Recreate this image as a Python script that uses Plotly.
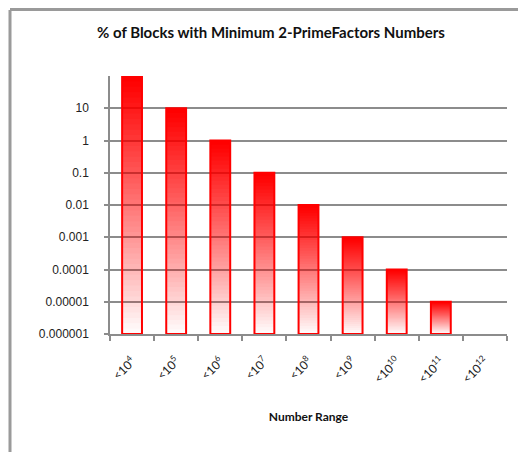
import plotly.graph_objects as go

# data
categories = ["<10<sup>4</sup>", "<10<sup>5</sup>", "<10<sup>6</sup>", "<10<sup>7</sup>",
              "<10<sup>8</sup>", "<10<sup>9</sup>", "<10<sup>10</sup>", "<10<sup>11</sup>",
              "<10<sup>12</sup>"]
percent_blocks = [100, 10, 1, 0.1, 0.01, 0.001, 0.0001, 0.00001, None]
y_tick_vals = [0.000001, 0.00001, 0.0001, 0.001, 0.01, 0.1, 1, 10]
y_tick_text = ["0.000001", "0.00001", "0.0001", "0.001", "0.01", "0.1", "1", "10"]
axis_floor = 0.000001

W, H = 518, 444
L, R, T, B = 102, 19, 68, 118
pw, ph = W - L - R, H - T - B

fig = go.Figure()

# red-to-white vertical gradient faked with stacked translucent bars
n_layers = 48
for k in range(n_layers):
    bases, lengths = [], []
    for v in percent_blocks:
        if v is None:
            bases.append(None)
            lengths.append(None)
            continue
        b = axis_floor * (v / axis_floor) ** (k / n_layers)
        bases.append(b)
        lengths.append(v - b)
    alpha = 1.0 / (n_layers - k)
    fig.add_trace(go.Bar(
        x=categories, y=lengths, base=bases, width=0.45,
        marker=dict(color=f"rgba(255,0,0,{alpha:.4f})", line=dict(width=0)),
        hoverinfo="skip", showlegend=False,
    ))

# outline
fig.add_trace(go.Bar(
    x=categories,
    y=[None if v is None else v - axis_floor for v in percent_blocks],
    base=[axis_floor] * len(categories), width=0.45,
    marker=dict(color="rgba(0,0,0,0)", line=dict(color="#ff0000", width=2)),
    showlegend=False,
))

fig.update_layout(
    width=W, height=H,
    barmode="overlay",
    plot_bgcolor="white", paper_bgcolor="white",
    margin=dict(l=L, r=R, t=T, b=B),
    title=dict(text="<b>% of Blocks with Minimum 2-PrimeFactors Numbers</b>",
               x=263 / W, xanchor="center", y=1 - 25 / H, yanchor="middle",
               font=dict(family="Lato", size=15, color="#111111")),
    font=dict(family="Liberation Sans", color="#222222"),
)

fig.update_yaxes(
    type="log", range=[-6, 2],
    tickvals=y_tick_vals, ticktext=y_tick_text,
    tickfont=dict(family="Liberation Sans", size=12, color="#222222"),
    showgrid=True, gridcolor="#8c8c8c", gridwidth=1.5,
    showline=True, linecolor="#8c8c8c", linewidth=1.5,
    ticks="outside", ticklen=4, tickcolor="#8c8c8c", tickwidth=1.5,
    ticklabelstandoff=13, zeroline=False,
)
fig.update_xaxes(
    type="category",
    tickangle=-45, tickfont=dict(family="Lato", size=12, color="#222222"),
    showline=True, linecolor="#8c8c8c", linewidth=1.5,
    ticks="outside", ticklen=5, tickcolor="#8c8c8c", tickwidth=1.5,
    ticklabelstandoff=14,
    tickson="boundaries", showgrid=False,
    title=dict(text="<b>Number Range</b>", standoff=27,
               font=dict(family="Lato", size=12, color="#111111")),
)

# chart frame lines (Excel-style border)
frame = dict(color="#9a9a9a", width=3)
fig.add_shape(type="line", xref="paper", yref="paper",
              x0=(2 - L) / pw, x1=(2 - L) / pw,
              y0=-B / ph, y1=1 + (T - 2) / ph, line=frame)
fig.add_shape(type="line", xref="paper", yref="paper",
              x0=(2 - L) / pw, x1=1 + R / pw,
              y0=1 + (T - 1.5) / ph, y1=1 + (T - 1.5) / ph, line=frame)

fig.write_html("out.html")
